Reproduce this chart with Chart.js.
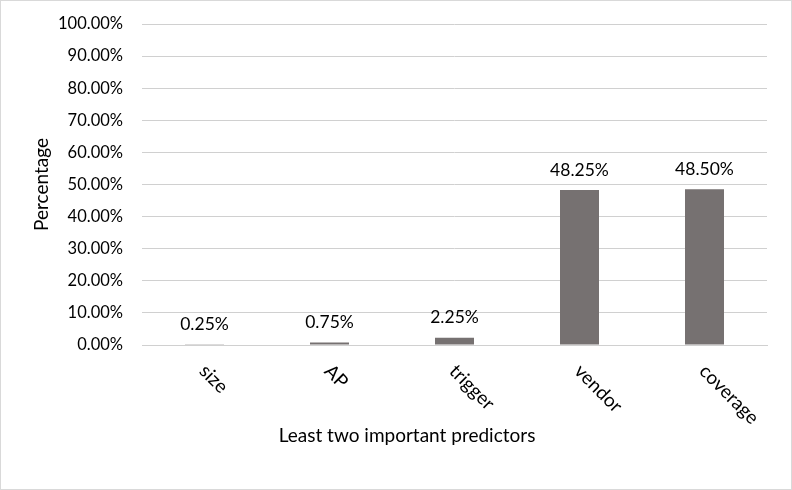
<!DOCTYPE html>
<html><head><meta charset="utf-8">
<script src="https://cdn.jsdelivr.net/npm/chart.js@4/dist/chart.umd.min.js"></script>
<style>
html,body{margin:0;padding:0;background:#fff;}
#wrap{position:relative;width:792px;height:490px;}
#wrap:after{content:"";position:absolute;left:0;top:0;width:790px;height:488px;border:1px solid #d9d9d9;pointer-events:none;}
canvas{display:block;}
</style></head><body>
<div id="wrap"><canvas id="c" width="792" height="490"></canvas></div>
<script>
const categories = ["size", "AP", "trigger", "vendor", "coverage"];
const percentages = [0.25, 0.75, 2.25, 48.25, 48.50];
const yTicks = [0,10,20,30,40,50,60,70,80,90,100];
const xTitle = "Least two important predictors";
const yTitle = "Percentage";

const FONT = "Lato, 'Open Sans', sans-serif";
const TXT = "#000000";

const overlay = {
  id: "overlay",
  afterDatasetsDraw(chart) {
    const ctx = chart.ctx, x = chart.scales.x, y = chart.scales.y;
    ctx.save();
    ctx.fillStyle = TXT;
    // data labels
    ctx.font = "17.5px " + FONT;
    ctx.textAlign = "center"; ctx.textBaseline = "middle";
    percentages.forEach((v, i) => {
      ctx.fillText(v.toFixed(2) + "%", x.getPixelForValue(i), y.getPixelForValue(v) - 20);
    });
    // rotated category labels
    ctx.font = "19px " + FONT;
    categories.forEach((c, i) => {
      const px = x.getPixelForValue(i);
      ctx.save();
      ctx.translate(px - 2, y.bottom + 23);
      ctx.rotate(Math.PI / 4);
      ctx.textAlign = "left"; ctx.textBaseline = "middle";
      ctx.fillText(c, 0, 0);
      ctx.restore();
    });
    // axis titles
    ctx.textAlign = "center"; ctx.textBaseline = "middle";
    ctx.fillText(xTitle, 407, 436);
    ctx.save();
    ctx.translate(42, (y.top + y.bottom) / 2);
    ctx.rotate(-Math.PI / 2);
    ctx.fillText(yTitle, 0, 0);
    ctx.restore();
    ctx.restore();
  }
};

new Chart(document.getElementById("c"), {
  type: "bar",
  data: {
    labels: categories,
    datasets: [{
      data: percentages,
      backgroundColor: "#767171",
      borderWidth: 0,
      categoryPercentage: 1,
      barPercentage: 0.312
    }]
  },
  options: {
    responsive: false,
    animation: false,
    devicePixelRatio: 1,
    layout: { padding: { left: 0, right: 25, top: 24, bottom: 0 } },
    plugins: { legend: { display: false }, tooltip: { enabled: false } },
    scales: {
      x: {
        grid: { display: false, drawTicks: false },
        border: { display: true, color: "#d0d0d0", width: 1 },
        ticks: { display: false },
        afterFit(s) { s.height = 145; s.paddingLeft = 0; s.paddingRight = 0; }
      },
      y: {
        min: 0, max: 100,
        afterBuildTicks(s) { s.ticks = yTicks.map(v => ({ value: v })); },
        grid: { color: "#d0d0d0", lineWidth: 1, drawTicks: false },
        border: { display: false },
        ticks: {
          padding: 19,
          color: TXT,
          font: { family: FONT, size: 16.5 },
          callback: v => v.toFixed(2) + "%"
        },
        afterFit(s) { s.width = 142; s.paddingTop = 0; s.paddingBottom = 0; }
      }
    }
  },
  plugins: [overlay]
});
</script>
</body></html>
